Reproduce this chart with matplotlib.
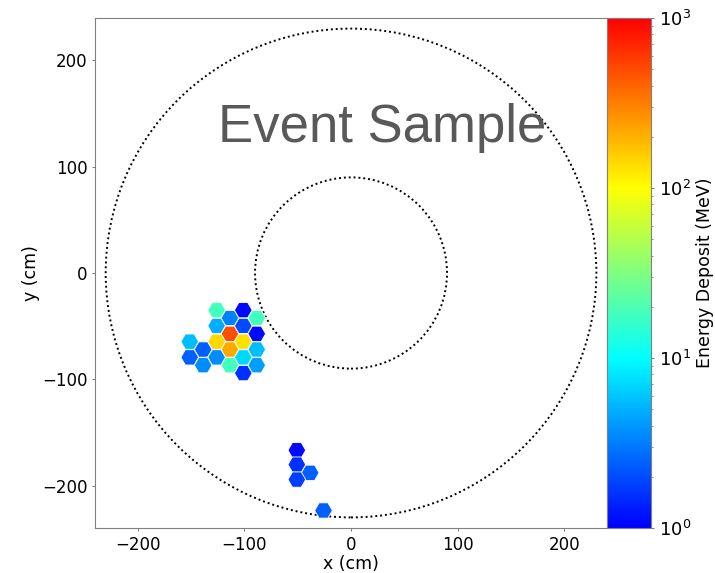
import numpy as np
import matplotlib
matplotlib.use("Agg")
import matplotlib.pyplot as plt
from matplotlib.patches import RegularPolygon, Circle
from matplotlib.collections import PatchCollection
from matplotlib.colors import LogNorm, LinearSegmentedColormap

# hit cells: centre x, centre y (cm), energy deposit (MeV)
hex_x = [-126.0, -113.5, -101.0, -88.4,
         -126.0, -113.5, -101.0, -88.4,
         -151.2, -126.0, -101.0,
         -138.6, -113.5, -88.4,
         -151.2, -126.0, -101.0,
         -138.6, -113.5, -88.4,
         -101.0,
         -50.8, -50.8, -38.3, -50.8, -25.8]
hex_y = [-35.0, -42.4, -35.0, -42.4,
         -49.8, -57.2, -49.8, -57.2,
         -64.6, -64.6, -64.6,
         -72.0, -72.0, -72.0,
         -79.4, -79.4, -79.4,
         -86.8, -86.8, -86.8,
         -94.2,
         -166.8, -180.3, -188.0, -194.4, -223.5]
hex_e = [18.0, 3.2, 1.1, 18.0,
         4.9, 490.0, 2.0, 1.1,
         5.6, 140.0, 130.0,
         2.4, 220.0, 5.6,
         2.4, 3.6, 7.0,
         3.6, 18.0, 4.2,
         1.55,
         1.1, 1.55, 2.4, 1.8, 2.4]

R_INNER = 90
R_OUTER = 230
HEX_R = 8.3

cmap = LinearSegmentedColormap.from_list(
    "bcyr", [(0, "#0000ff"), (1 / 3, "#00ffff"), (2 / 3, "#ffff00"), (1, "#ff0000")])

fig = plt.figure(figsize=(7.15, 5.73), dpi=100)
ax = fig.add_axes([0.1329, 0.0785, 0.7161, 0.8901])
cax = fig.add_axes([0.8490, 0.0785, 0.0615, 0.8901])

# detector boundaries
for r in (R_INNER, R_OUTER):
    ax.add_patch(Circle((0, 0), r, fill=False, ls=(0, (1, 1.5)), lw=1.4, color="black"))

hexes = [RegularPolygon((x, y), numVertices=6, radius=HEX_R, orientation=np.pi / 6)
         for x, y in zip(hex_x, hex_y)]
coll = PatchCollection(hexes, cmap=cmap, norm=LogNorm(vmin=1, vmax=1000),
                       edgecolor="white", linewidth=0.6)
coll.set_array(np.array(hex_e))
ax.add_collection(coll)

ax.text(-125, 123, "Event Sample", fontsize=38, color="#595959",
        family="Liberation Sans", ha="left", va="baseline")

ax.set_xlim(-240, 240)
ax.set_ylim(-240, 240)
ax.set_xticks([-200, -100, 0, 100, 200])
ax.set_yticks([-200, -100, 0, 100, 200])
ax.tick_params(labelsize=12, length=2.5, color="#808080", pad=3)
ax.set_xlabel("x (cm)", fontsize=12.5, labelpad=1)
ax.set_ylabel("y (cm)", fontsize=12.5, labelpad=1)
for s in ax.spines.values():
    s.set_color("#808080")

cb = fig.colorbar(coll, cax=cax)
cb.outline.set_edgecolor("#808080")
cb.ax.tick_params(which="both", labelsize=13, color="#808080", pad=3)
cb.ax.tick_params(which="major", length=2.5)
cb.ax.tick_params(which="minor", length=1.5)
cb.set_label("Energy Deposit (MeV)", fontsize=12.5, labelpad=4)

fig.savefig("out.png", dpi=100)
